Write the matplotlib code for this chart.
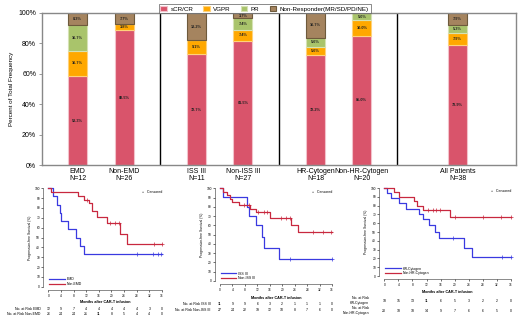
import numpy as np
import matplotlib
matplotlib.use('Agg')
import matplotlib.pyplot as plt
from matplotlib.transforms import blended_transform_factory

plt.rcParams['font.family'] = ['Liberation Sans', 'DejaVu Sans']

# ---- response rates by subgroup (%)
groups = ['EMD\nN=12', 'Non-EMD\nN=26', 'ISS III\nN=11', 'Non-ISS III\nN=27',
          'HR-Cytogen\nN=18', 'Non-HR-Cytogen\nN=20', 'All Patients\nN=38']
scr_cr = [58.3, 88.5, 72.7, 81.5, 72.2, 85.0, 78.9]
vgpr = [16.7, 3.8, 9.1, 7.4, 5.6, 10.0, 7.9]
pr = [16.7, 0.0, 0.0, 7.4, 5.6, 5.0, 5.3]
non_resp = [8.3, 7.7, 18.2, 3.7, 16.7, 0.0, 7.9]
resp_names = ['sCR/CR', 'VGPR', 'PR', 'Non-Responder(MR/SD/PD/NE)']

# ---- KM curves (time in months, PFS %)
emd_t = [0, 1.6, 2.6, 3.7, 4.0, 6.1, 8.7, 10.0, 11.3, 36]
emd_s = [100, 91.7, 83.3, 75.0, 66.7, 58.3, 50.0, 41.7, 33.3, 33.3]
emd_cens = [28.0, 33.0, 34.7, 35.8]
nemd_t = [0, 0.7, 9.3, 11.4, 12.8, 13.8, 15.5, 18.7, 22.6, 25.0, 36]
nemd_s = [100, 96.2, 92.3, 88.5, 84.6, 76.9, 71.0, 64.9, 54.0, 43.2, 43.2]
nemd_cens = [12.3, 19.6, 21.2, 22.4, 33.4, 36.0]

iss_t = [0, 0.9, 8.8, 9.4, 11.5, 13.4, 14.3, 18.9, 36]
iss_s = [100, 90.9, 80.0, 70.0, 60.0, 48.0, 36.0, 24.0, 24.0]
iss_cens = [22.4, 36.0]
niss_t = [0, 1.1, 2.3, 3.2, 3.7, 6.2, 9.6, 11.5, 16.0, 22.8, 25.1, 36]
niss_s = [100, 96.3, 92.6, 88.9, 85.2, 81.5, 77.8, 74.1, 68.3, 60.8, 53.0, 53.0]
niss_cens = [7.7, 9.2, 12.3, 14.1, 15.0, 19.6, 21.2, 22.4, 30.0, 33.2, 35.8]

hr_t = [0, 0.9, 1.8, 4.1, 6.2, 9.9, 11.1, 12.8, 14.3, 15.6, 22.7, 25.0, 36]
hr_s = [100, 94.4, 88.3, 82.5, 76.5, 70.6, 64.7, 57.4, 50.2, 43.0, 32.3, 21.5, 21.5]
hr_cens = [19.6, 33.4, 36.0]
nhr_t = [0, 2.8, 4.1, 8.4, 9.2, 11.1, 18.7, 36]
nhr_s = [100, 95.0, 90.0, 85.0, 80.0, 75.0, 66.7, 66.7]
nhr_cens = [12.5, 13.9, 14.8, 15.8, 20.1, 28.1, 33.2, 36.0]

risk_times = [0, 4, 8, 12, 16, 20, 24, 28, 32, 36]
risk_emd = [12, 9, 7, 4, 4, 4, 4, 4, 3, 0]
risk_nemd = [26, 24, 24, 21, 11, 8, 5, 4, 4, 0]
risk_iss = [11, 9, 9, 6, 3, 2, 1, 1, 1, 0]
risk_niss = [27, 24, 22, 19, 12, 10, 8, 7, 6, 0]
risk_hr = [18, 15, 13, 11, 6, 5, 3, 2, 2, 0]
risk_nhr = [20, 18, 18, 14, 9, 7, 6, 6, 5, 0]

W, H = 520, 319
fig = plt.figure(figsize=(W / 100, H / 100), dpi=100)


def rect(x0, y0, x1, y1):
    # pixel box -> figure fraction
    return [x0 / W, 1 - y1 / H, (x1 - x0) / W, (y1 - y0) / H]


# ================= stacked bars =================
ax = fig.add_axes(rect(41.7, 12.7, 516, 165))
xpos = [0.304, 0.698, 1.307, 1.697, 2.309, 2.70, 3.508]
cols = ['#D9546B', '#FFA800', '#A9C46B', '#A5845F']
edges = ['#F2C2CB', '#FFD27A', '#D5E2B4', '#6E5A3C']
bottom = np.zeros(len(groups))
for vals, name, c, ec in zip([scr_cr, vgpr, pr, non_resp], resp_names, cols, edges):
    vals = np.array(vals)
    ax.bar(xpos, vals, width=0.16, bottom=bottom, color=c, edgecolor=ec,
           linewidth=0.8, label=name)
    for x, b, v in zip(xpos, bottom, vals):
        if v > 0:
            ax.text(x, b + v / 2, '%.1f%%' % v, ha='center', va='center',
                    fontsize=2.8, fontweight='bold', color='#222222')
    bottom += vals

for s in [1, 2, 3]:
    ax.axvline(s, color='black', lw=1)
ax.set_xlim(0, 4)
ax.set_ylim(0, 100)
ax.set_yticks(range(0, 101, 20))
ax.set_yticklabels(['%d%%' % v for v in range(0, 101, 20)], fontsize=5)
ax.set_xticks(xpos)
ax.set_xticklabels(groups, fontsize=5, linespacing=1.0)
ax.tick_params(axis='x', length=0, pad=2)
ax.tick_params(axis='y', length=2.5, width=0.6, color='#888888', pad=1.5)
for sp in ax.spines.values():
    sp.set_color('#888888')
    sp.set_linewidth(1)
ax.set_ylabel('Percent of Total Frequency', fontsize=4.5, labelpad=3)
leg = ax.legend(ncol=4, loc='lower center', bbox_to_anchor=(0.47, 0.995),
                fontsize=4.5, frameon=True, fancybox=False, edgecolor='#555555',
                handlelength=1.0, handleheight=0.7, columnspacing=1.6,
                handletextpad=0.6, borderpad=0.3, borderaxespad=0)
leg.get_frame().set_linewidth(0.6)

# ================= KM panels =================
blue = '#3A3AE0'
red = '#C8283F'


def km_panel(box, curves, risks, labels, lab_x, rows_y, months_y, two_line=False):
    a = fig.add_axes(rect(*box))
    for t, s, cens, c, lab in curves:
        a.step(t, s, where='post', color=c, lw=0.9, label=lab, clip_on=False)
        cy = np.interp(cens, t, s, right=s[-1])
        # post-step lookup for censor heights
        cy = [s[np.searchsorted(t, x, side='right') - 1] for x in cens]
        a.plot(cens, cy, '+', color=c, ms=2.2, mew=0.5, clip_on=False)
    a.set_xlim(0, 36)
    a.set_ylim(0, 100)
    a.set_xticks(risk_times)
    a.set_yticks(range(0, 101, 10))
    a.tick_params(labelsize=2.3, length=1.5, width=0.4, pad=1)
    for k in ['top', 'right']:
        a.spines[k].set_visible(False)
    a.spines['left'].set_position(('outward', 3.5))
    a.spines['bottom'].set_position(('outward', 2.5))
    for k in ['left', 'bottom']:
        a.spines[k].set_linewidth(0.4)
        a.spines[k].set_color('#333333')
    a.set_ylabel('Progression-free Survival (%)', fontsize=2.4, labelpad=2 if not two_line else 2)
    a.legend(loc='lower left', fontsize=2.5, frameon=False, handlelength=4.5,
             borderaxespad=0.1, borderpad=0.1, labelspacing=0.2, handletextpad=0.6)
    a.text(1.0, 0.985, '+   Censored', transform=a.transAxes, ha='right', va='top',
           fontsize=2.5)
    tr = blended_transform_factory(a.transData, fig.transFigure)
    a.text(18, 1 - months_y / H, 'Months after CAR-T infusion', transform=tr,
           ha='center', va='center', fontsize=2.7, fontweight='bold')
    for r, lab, y in zip(risks, labels, rows_y):
        for tt, n in zip(risk_times, r):
            a.text(tt, 1 - y / H, str(n), transform=tr, ha='center', va='center',
                   fontsize=2.5)
        fig.text(lab_x / W, 1 - y / H, lab, ha='right', va='center', fontsize=2.5,
                 linespacing=1.3)
    return a


km_panel((48.3, 188.3, 162, 286.7),
         [(emd_t, emd_s, emd_cens, blue, 'EMD'),
          (nemd_t, nemd_s, nemd_cens, red, 'Non-EMD')],
         [risk_emd, risk_nemd], ['No. at Risk EMD', 'No. at Risk Non-EMD'],
         40.5, [309.3, 314.2], 302)

km_panel((220, 188.3, 332, 281),
         [(iss_t, iss_s, iss_cens, blue, 'ISS III'),
          (niss_t, niss_s, niss_cens, red, 'Non-ISS III')],
         [risk_iss, risk_niss], ['No. at Risk ISS III', 'No. at Risk Non-ISS III'],
         210.5, [304, 310.2], 297.7)

km_panel((384.3, 188, 511, 276),
         [(hr_t, hr_s, hr_cens, blue, 'HR-Cytogen'),
          (nhr_t, nhr_s, nhr_cens, red, 'Non-HR-Cytogen')],
         [risk_hr, risk_nhr], ['No. at Risk\nHR-Cytogen', 'No. at Risk\nNon-HR-Cytogen'],
         369, [300.7, 310.7], 291.7, two_line=True)

fig.savefig('out.png', dpi=100)
